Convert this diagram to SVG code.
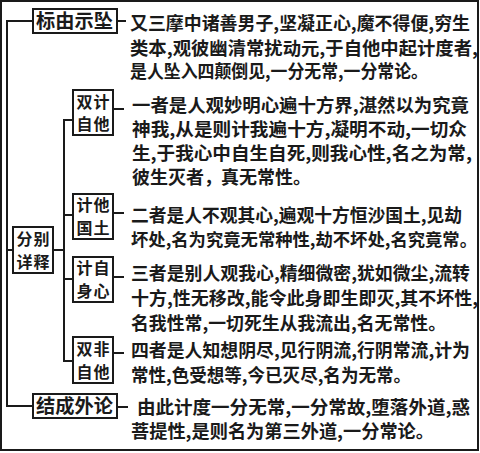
<svg xmlns="http://www.w3.org/2000/svg" width="480" height="453" viewBox="0 0 480 453">
<style>
.box{fill:#fff;stroke:#1a1a1a;stroke-width:2}
.ln{fill:none;stroke:#1a1a1a;stroke-width:2}
text{font-family:"Noto Sans CJK SC","Noto Sans CJK JP",sans-serif;font-weight:700;fill:#1a1a1a}
.t{font-size:18px}
.lb{font-size:19px}
.sb{font-size:16px;text-anchor:middle;letter-spacing:1px}
</style>
<rect x="0" y="0" width="480" height="453" fill="#fff"/>
<rect x="1" y="1" width="477" height="449" fill="none" stroke="#1a1a1a" stroke-width="2"/>
<g id="connectors">
<path class="ln" d="M34 21H7V406H33"/>
<path class="ln" d="M7 250H13"/>
<path class="ln" d="M53 250H64"/>
<path class="ln" d="M73 120H64V361H73"/>
<path class="ln" d="M64 215H73M64 279H73"/>
<path class="ln" d="M117 21H126"/>
<path class="ln" d="M113 109H124"/>
<path class="ln" d="M113 213H124"/>
<path class="ln" d="M113 277H124"/>
<path class="ln" d="M113 353H124"/>
<path class="ln" d="M117 407H128"/>
</g>
<g id="n-biaoyou">
<rect class="box" x="33" y="9" width="84" height="24"/>
<text class="lb" x="36" y="28" textLength="77" lengthAdjust="spacingAndGlyphs">标由示坠</text>
</g>
<g id="n-fenbie">
<rect class="box" x="13" y="227" width="40" height="46"/>
<text class="sb" x="33.5" y="245">分别</text>
<text class="sb" x="33.5" y="268">详释</text>
</g>
<g id="n-shuangji">
<rect class="box" x="73" y="90" width="40" height="45"/>
<text class="sb" x="93.5" y="108">双计</text>
<text class="sb" x="93.5" y="130">自他</text>
</g>
<g id="n-jita">
<rect class="box" x="73" y="194" width="40" height="45"/>
<text class="sb" x="93.5" y="211">计他</text>
<text class="sb" x="93.5" y="234">国土</text>
</g>
<g id="n-jizi">
<rect class="box" x="73" y="257" width="40" height="45"/>
<text class="sb" x="93.5" y="274">计自</text>
<text class="sb" x="93.5" y="297">身心</text>
</g>
<g id="n-shuangfei">
<rect class="box" x="73" y="337" width="40" height="46"/>
<text class="sb" x="93.5" y="355">双非</text>
<text class="sb" x="93.5" y="378">自他</text>
</g>
<g id="n-jiecheng">
<rect class="box" x="33" y="394" width="84" height="24"/>
<text class="lb" x="36" y="413" textLength="77" lengthAdjust="spacingAndGlyphs">结成外论</text>
</g>
<g id="p1">
<text class="t" x="130" y="30" textLength="340" lengthAdjust="spacingAndGlyphs">又三摩中诸善男子,坚凝正心,魔不得便,穷生</text>
<text class="t" x="130" y="54.5" textLength="348" lengthAdjust="spacingAndGlyphs">类本,观彼幽清常扰动元,于自他中起计度者,</text>
<text class="t" x="130" y="78" textLength="298" lengthAdjust="spacingAndGlyphs">是人坠入四颠倒见,一分无常,一分常论。</text>
</g>
<g id="p2">
<text class="t" x="132" y="112" textLength="337" lengthAdjust="spacingAndGlyphs">一者是人观妙明心遍十方界,湛然以为究竟</text>
<text class="t" x="132" y="136" textLength="335" lengthAdjust="spacingAndGlyphs">神我,从是则计我遍十方,凝明不动,一切众</text>
<text class="t" x="132" y="160" textLength="340" lengthAdjust="spacingAndGlyphs">生,于我心中自生自死,则我心性,名之为常,</text>
<text class="t" x="132" y="184">彼生灭者，</text>
<text class="t" x="221" y="184">真无常性。</text>
</g>
<g id="p3">
<text class="t" x="131" y="222" textLength="331" lengthAdjust="spacingAndGlyphs">二者是人不观其心,遍观十方恒沙国土,见劫</text>
<text x="131" y="246" style="font-size:17.2px" textLength="346" lengthAdjust="spacingAndGlyphs">坏处,名为究竟无常种性,劫不坏处,名究竟常。</text>
</g>
<g id="p4">
<text class="t" x="131" y="280" textLength="339" lengthAdjust="spacingAndGlyphs">三者是别人观我心,精细微密,犹如微尘,流转</text>
<text class="t" x="131" y="304.5" textLength="347" lengthAdjust="spacingAndGlyphs">十方,性无移改,能令此身即生即灭,其不坏性,</text>
<text class="t" x="131" y="329.5" textLength="315" lengthAdjust="spacingAndGlyphs">名我性常,一切死生从我流出,名无常性。</text>
</g>
<g id="p5">
<text class="t" x="131" y="357" textLength="339" lengthAdjust="spacingAndGlyphs">四者是人知想阴尽,见行阴流,行阴常流,计为</text>
<text class="t" x="131" y="381.5" textLength="280" lengthAdjust="spacingAndGlyphs">常性,色受想等,今已灭尽,名为无常。</text>
</g>
<g id="p6">
<text class="t" x="137" y="414" textLength="333" lengthAdjust="spacingAndGlyphs">由此计度一分无常,一分常故,堕落外道,惑</text>
<text class="t" x="131" y="437.5" textLength="303" lengthAdjust="spacingAndGlyphs">菩提性,是则名为第三外道,一分常论。</text>
</g>
</svg>
